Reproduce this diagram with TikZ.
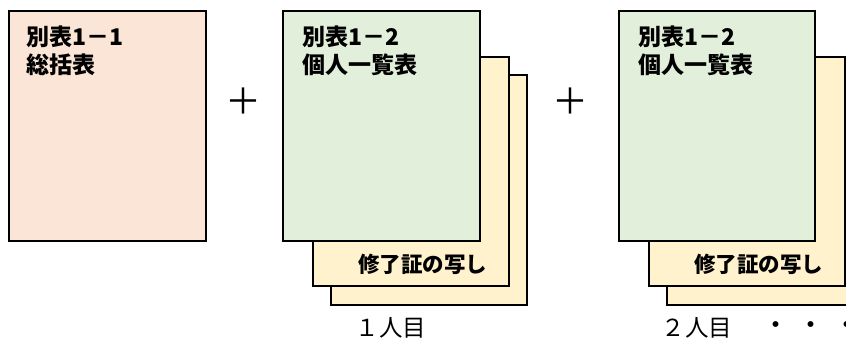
\documentclass[tikz,border=0pt]{standalone}
\usepackage{fontspec}
\setmainfont{Noto Sans CJK JP}
\usepackage{tikz}
\usetikzlibrary{calc,positioning}
\definecolor{peach}{HTML}{FBE5D6}
\definecolor{leaf}{HTML}{E2EFDA}
\definecolor{cream}{HTML}{FFF2CC}
\tikzset{
sheet/.style={draw=black, line width=1.6pt, rectangle, anchor=north west,
  minimum width=196pt, minimum height=230pt, inner sep=0pt}, % one page of the set
title/.style={anchor=north west, inner sep=0pt, align=left,
  font=\fontsize{23pt}{28pt}\selectfont\bfseries},
certtext/.style={inner sep=0pt, font=\fontsize{21.5pt}{28pt}\selectfont\bfseries},
caption/.style={inner sep=0pt, font=\fontsize{23.5pt}{26pt}\selectfont},
plus/.style={inner sep=0pt, font=\fontsize{36pt}{40pt}\selectfont},
}
\begin{document}
\begin{tikzpicture}[x=1pt,y=-1pt]
   \useasboundingbox (0,0) rectangle (846,344);
   % summary sheet
   \node[sheet, fill=peach, minimum width=197pt] (sum) at (8,10) {};
   \node[title] (sum_t) at ($(sum.north west)+(18,16)$) {別表1－1\\総括表};
   \node[plus] (plus_1) at (243.5,101.5) {＋};
   % first person
   \node[sheet, fill=cream] (copy_1b) at (330,74) {};
   \node[sheet, fill=cream, minimum height=229pt] (copy_1a) at (312,56) {};
   \node[sheet, fill=leaf, minimum width=197pt] (list_1) at (282,10) {};
   \node[title] (list_1t) at ($(list_1.north west)+(20,16)$) {別表1－2\\個人一覧表};
   \node[certtext] (cert_1) at ($(copy_1a.south east)+(-87,-22.5)$) {修了証の写し};
   \node[caption] (who_1) at (391,328) {１人目};
   \node[plus] (plus_2) at (570,101.5) {＋};
   % second person
   \node[sheet, fill=cream] (copy_2b) at (666,74) {};
   \node[sheet, fill=cream, minimum height=229pt] (copy_2a) at (648,56) {};
   \node[sheet, fill=leaf] (list_2) at (618,10) {};
   \node[title] (list_2t) at ($(list_2.north west)+(20,16)$) {別表1－2\\個人一覧表};
   \node[certtext] (cert_2) at ($(copy_2a.south east)+(-87,-22.5)$) {修了証の写し};
   \node[caption] (who_2) at (697,328) {２人目};
   \node[caption, anchor=west, font=\fontsize{21pt}{26pt}\selectfont\bfseries] (more) at (765,327) {・\hspace{14.5pt}・\hspace{14.5pt}・};
\end{tikzpicture}
\end{document}
